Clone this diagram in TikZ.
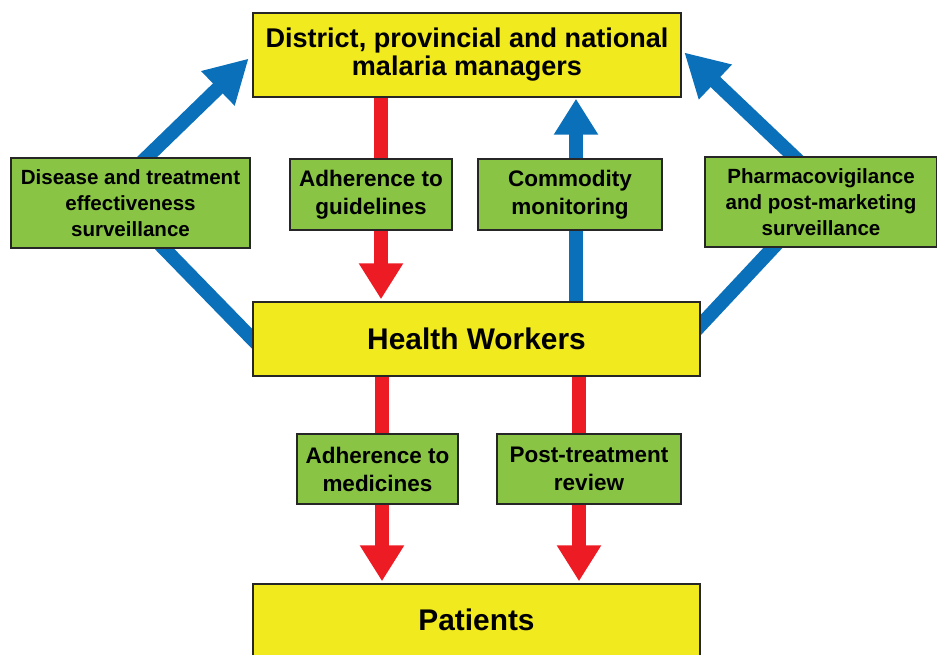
\documentclass[tikz,border=0pt]{standalone}
\usepackage{fontspec}
\setmainfont{Liberation Sans}
\usetikzlibrary{arrows.meta,backgrounds}
\definecolor{boxyellow}{RGB}{241,234,30}
\definecolor{boxgreen}{RGB}{137,196,68}
\definecolor{flowblue}{RGB}{10,112,185}
\definecolor{flowred}{RGB}{237,28,36}

\begin{document}
\begin{tikzpicture}[
  x=0.02cm, y=-0.02cm,
  level/.style={rectangle, draw=black!85, line width=0.03cm, fill=boxyellow, inner sep=0pt, align=center, font=\bfseries\fontsize{17}{20}\selectfont},
  check/.style={rectangle, draw=black!85, line width=0.03cm, fill=boxgreen, inner sep=0pt, align=center, font=\bfseries\fontsize{12.8}{15.9}\selectfont},
  checkwide/.style={check, font=\bfseries\fontsize{11.7}{15}\selectfont},
  redflow/.style={draw=flowred, line width=0.28cm, -{Triangle[width=0.84cm,length=0.72cm]}},
  blueflow/.style={draw=flowblue, line width=0.28cm, -{Triangle[width=0.84cm,length=0.72cm]}},
  blueflank/.style={blueflow, line join=miter, -{Triangle[width=0.9cm,length=0.86cm]}}
]
\useasboundingbox (0,0) rectangle (937,654);
\clip (0,0) rectangle (937,654);

% ================= Levels =================
\node[level, minimum width=8.56cm, minimum height=1.68cm, font=\bfseries\fontsize{15.4}{15.9}\selectfont] (mgr) at (467,55) {District, provincial and national\\malaria managers};
\node[level, minimum width=8.94cm, minimum height=1.48cm] (hw) at (476.5,339) {Health Workers};
\node[level, minimum width=8.94cm, minimum height=1.44cm] (pat) at (476.5,620) {Patients};

% ================= Checks =================
\node[checkwide, minimum width=4.78cm, minimum height=1.8cm] (surv) at (130.5,203) {Disease and treatment\\effectiveness\\surveillance};
\node[check, minimum width=3.24cm, minimum height=1.42cm] (guide) at (371,194.5) {Adherence to\\guidelines};
\node[check, minimum width=3.68cm, minimum height=1.42cm] (comm) at (570,194.5) {Commodity\\monitoring};
\node[checkwide, minimum width=4.64cm, minimum height=1.8cm] (pharma) at (821,202) {Pharmacovigilance\\and post-marketing\\surveillance};
\node[check, minimum width=3.22cm, minimum height=1.4cm] (med) at (377.5,469) {Adherence to\\medicines};
\node[check, minimum width=3.68cm, minimum height=1.4cm] (review) at (589,469) {Post-treatment\\review};

% ================= Flows =================
\coordinate (xguide) at (381,0);
\coordinate (xcomm) at (576,0);
\coordinate (xmed) at (382,0);
\coordinate (xreview) at (579,0);
\coordinate (lbend) at (110,193);
\coordinate (rbend) at (828,189);

\begin{scope}[on background layer]
\draw[redflow, shorten >=0.04cm] (xguide |- mgr.south) -- (xguide |- hw.north);
\draw[blueflow, shorten >=0.02cm] (xcomm |- hw.north) -- (xcomm |- mgr.south);
\draw[redflow, shorten >=0.04cm] (xmed |- hw.south) -- (xmed |- pat.north);
\draw[redflow, shorten >=0.04cm] (xreview |- hw.south) -- (xreview |- pat.north);
\draw[blueflank, shorten <=-0.2cm, shorten >=0.1cm] (hw.west) -- (lbend) -- (mgr.west);
\draw[blueflank, shorten <=-0.2cm, shorten >=0.07cm] ([yshift=0.28cm]hw.east) -- (rbend) -- ([yshift=0.1cm]mgr.east);
\end{scope}

\end{tikzpicture}
\end{document}
